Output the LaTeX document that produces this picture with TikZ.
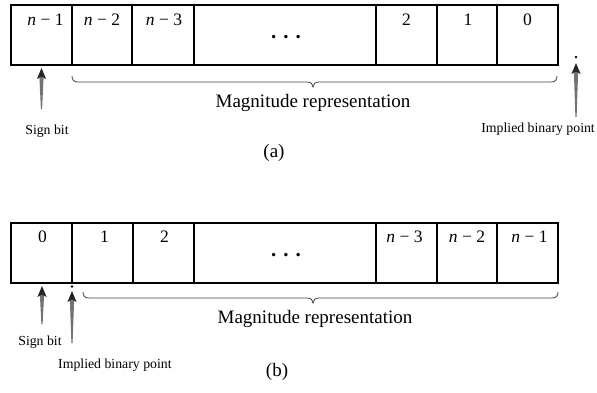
\documentclass[tikz,border=0pt]{standalone}
\usepackage{fontspec}
\setmainfont{Liberation Serif}
\usetikzlibrary{calc}

\tikzset{
  cell/.style={draw, line width=1.2pt, minimum height=60pt, inner sep=0pt, outer sep=0pt},
  celltext/.style={font=\fontsize{17.5}{18}\selectfont, anchor=base, inner sep=0pt},
  dotstext/.style={font=\fontsize{21}{21}\selectfont\bfseries, anchor=base, inner sep=0pt},
  smalllabel/.style={font=\fontsize{13.8}{14}\selectfont, anchor=base, inner sep=0pt},
  biglabel/.style={font=\fontsize{19}{20}\selectfont, anchor=base, inner sep=0pt},
  bracestyle/.style={line width=0.8pt, black!75},
  shaft/.style={fill=black!55},
  head/.style={fill=black!85},
  bpdot/.style={circle, fill=black, inner sep=0pt, minimum size=2.8pt},
}

% filled arrow: #1 = tip, #2 = tail
\newcommand{\bitarrow}[2]{%
  \fill[shaft] ($(#1)+(-2.2,7)$) -- ($(#1)+(2.2,7)$) -- ($(#2)+(0.6,0)$) -- ($(#2)+(-0.6,0)$) -- cycle;
  \fill[head] (#1) -- ($(#1)+(4.6,11)$) -- ($(#1)+(0,8.5)$) -- ($(#1)+(-4.6,11)$) -- cycle;
}

\begin{document}
\begin{tikzpicture}[x=1pt, y=-1pt]
\useasboundingbox (0,0) rectangle (597,392);

% ---------- (a) ----------
\begin{scope}
  \node[cell, minimum width=61pt,  anchor=north west] (a1) at (11,5)  {};
  \node[cell, minimum width=60pt,  anchor=north west] (a2) at (72,5)  {};
  \node[cell, minimum width=62pt,  anchor=north west] (a3) at (132,5) {};
  \node[cell, minimum width=182pt, anchor=north west] (a4) at (194,5) {};
  \node[cell, minimum width=61pt,  anchor=north west] (a5) at (376,5) {};
  \node[cell, minimum width=60pt,  anchor=north west] (a6) at (437,5) {};
  \node[cell, minimum width=61pt,  anchor=north west] (a7) at (497,5) {};

  \node[celltext] (ta1) at ($(a1.north)+(4,20)$) {\textit{n} − 1};
  \node[celltext] (ta2) at ($(a2.north)+(0,20)$) {\textit{n} − 2};
  \node[celltext] (ta3) at ($(a3.north)+(1,20)$) {\textit{n} − 3};
  \node[dotstext] (ta4) at ($(a4.north)+(1,33)$) {. . .};
  \node[celltext] (ta5) at ($(a5.north)+(0,20)$) {2};
  \node[celltext] (ta6) at ($(a6.north)+(1,20)$) {1};
  \node[celltext] (ta7) at ($(a7.north)+(0,20)$) {0};

  % brace under the magnitude bits
  \coordinate (abl) at (72,76);
  \coordinate (abr) at (557,76);
  \coordinate (abt) at (313,87);
  \draw[bracestyle] (abl) .. controls ($(abl)+(0,4)$) and ($(abl)+(2,6)$) .. ($(abl)+(6,6)$)
     -- ($(abt)+(-6,-5)$) .. controls ($(abt)+(-2,-5)$) and ($(abt)+(0,-3)$) .. (abt)
     .. controls ($(abt)+(0,-3)$) and ($(abt)+(2,-5)$) .. ($(abt)+(6,-5)$)
     -- ($(abr)+(-6,6)$) .. controls ($(abr)+(-2,6)$) and ($(abr)+(0,4)$) .. (abr);
  \node[biglabel] (amag) at (313,107) {Magnitude representation};

  % sign bit arrow
  \coordinate (asgtip) at (41.5,68);
  \coordinate (asgtail) at (41.5,109);
  \bitarrow{asgtip}{asgtail}
  \node[smalllabel] (asg) at (47,134) {Sign bit};

  % implied binary point arrow
  \node[bpdot] (abp) at (576,57) {};
  \coordinate (abptip) at (576,63);
  \coordinate (abptail) at (576,117);
  \bitarrow{abptip}{abptail}
  \node[smalllabel, anchor=base east] (abpl) at (595,132) {Implied binary point};

  \node[biglabel] (acap) at (274,157) {(a)};
\end{scope}

% ---------- (b) ----------
\begin{scope}
  \node[cell, minimum width=61pt,  anchor=north west] (b1) at (11,223)  {};
  \node[cell, minimum width=61pt,  anchor=north west] (b2) at (72,223)  {};
  \node[cell, minimum width=61pt,  anchor=north west] (b3) at (133,223) {};
  \node[cell, minimum width=182pt, anchor=north west] (b4) at (194,223) {};
  \node[cell, minimum width=61pt,  anchor=north west] (b5) at (376,223) {};
  \node[cell, minimum width=60pt,  anchor=north west] (b6) at (437,223) {};
  \node[cell, minimum width=61pt,  anchor=north west] (b7) at (497,223) {};

  \node[celltext] (tb1) at ($(b1.north)+(1,19)$) {0};
  \node[celltext] (tb2) at ($(b2.north)+(2,19)$) {1};
  \node[celltext] (tb3) at ($(b3.north)+(1,19)$) {2};
  \node[dotstext] (tb4) at ($(b4.north)+(1,33)$) {. . .};
  \node[celltext] (tb5) at ($(b5.north)+(-2,19)$) {\textit{n} − 3};
  \node[celltext] (tb6) at ($(b6.north)+(0,19)$) {\textit{n} − 2};
  \node[celltext] (tb7) at ($(b7.north)+(2,19)$) {\textit{n} − 1};

  \coordinate (bbl) at (83,292);
  \coordinate (bbr) at (558,292);
  \coordinate (bbt) at (313,303);
  \draw[bracestyle] (bbl) .. controls ($(bbl)+(0,4)$) and ($(bbl)+(2,6)$) .. ($(bbl)+(6,6)$)
     -- ($(bbt)+(-6,-5)$) .. controls ($(bbt)+(-2,-5)$) and ($(bbt)+(0,-3)$) .. (bbt)
     .. controls ($(bbt)+(0,-3)$) and ($(bbt)+(2,-5)$) .. ($(bbt)+(6,-5)$)
     -- ($(bbr)+(-6,6)$) .. controls ($(bbr)+(-2,6)$) and ($(bbr)+(0,4)$) .. (bbr);
  \node[biglabel] (bmag) at (315,323) {Magnitude representation};

  \coordinate (bsgtip) at (42,286);
  \coordinate (bsgtail) at (42,324);
  \bitarrow{bsgtip}{bsgtail}
  \node[smalllabel] (bsg) at (40,345) {Sign bit};

  \node[bpdot] (bbp) at (72,286.5) {};
  \coordinate (bbptip) at (72,291);
  \coordinate (bbptail) at (72,343);
  \bitarrow{bbptip}{bbptail}
  \node[smalllabel, anchor=base west] (bbpl) at (58,368) {Implied binary point};

  \node[biglabel] (bcap) at (277,376) {(b)};
\end{scope}
\end{tikzpicture}
\end{document}
